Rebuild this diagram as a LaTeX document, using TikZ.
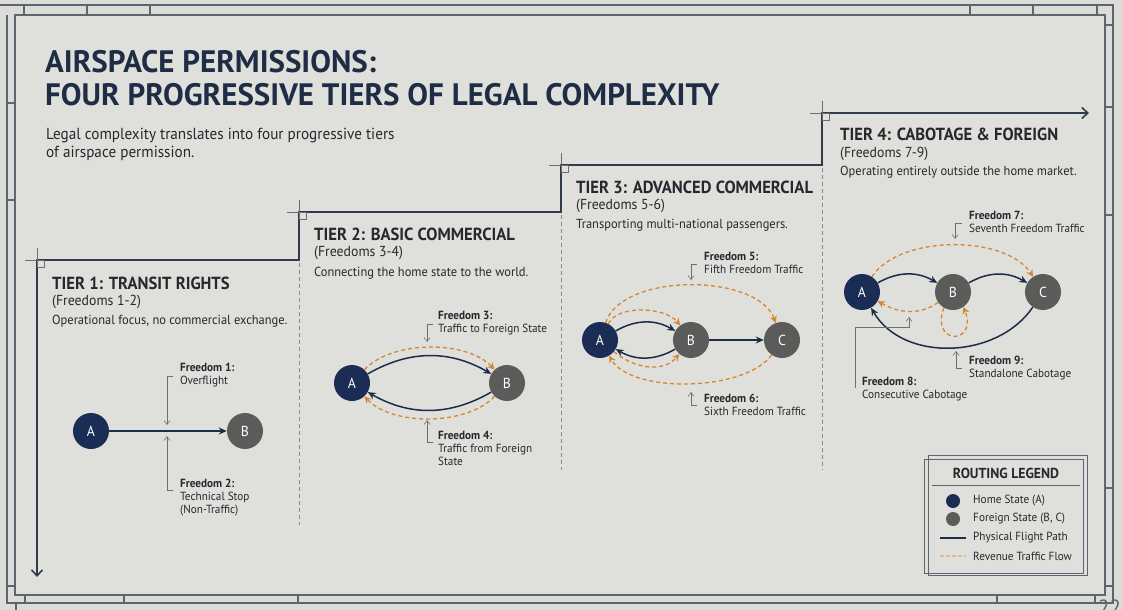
\documentclass[tikz,border=0pt]{standalone}
\usepackage{fontspec}
\setmainfont{PT Sans}[FakeStretch=0.95]
\newfontfamily\titlefamily{PT Sans}
\usetikzlibrary{arrows.meta}
\definecolor{bg}{HTML}{DCDDD8}
\definecolor{panel}{HTML}{DFE0DB}
\definecolor{framec}{HTML}{5E6570}
\definecolor{titlec}{HTML}{1E2D45}
\definecolor{textc}{HTML}{25282D}
\definecolor{navyN}{HTML}{1B2D55}
\definecolor{grayN}{HTML}{5B5B59}
\definecolor{navyL}{HTML}{1E2C4A}
\definecolor{stairc}{HTML}{2F3A4B}
\definecolor{orangeN}{HTML}{D58632}
\definecolor{orangeL}{HTML}{E2B98E}
\definecolor{leadc}{HTML}{6E6E6E}
\definecolor{sepc}{HTML}{8C8C8C}
\tikzset{
  home/.style={circle, fill=navyN, minimum size=36pt, inner sep=0pt, text=white, font=\fontsize{14.5}{14.5}\selectfont},
  foreign/.style={circle, fill=grayN, minimum size=36pt, inner sep=0pt, text=white, font=\fontsize{14.5}{14.5}\selectfont},
  flight/.style={draw=navyL, line width=1.5pt, -{Stealth[length=8pt,width=7pt]}},
  revenue/.style={draw=orangeN, line width=1.3pt, dash pattern=on 4pt off 3pt, -{Stealth[length=7pt,width=7pt]}},
  lead/.style={draw=leadc, line width=0.6pt, -{Straight Barb[length=4pt,width=6pt]}},
  note/.style={anchor=north west, inner sep=0pt, align=left, text=textc, font=\fontsize{11.8}{13}\selectfont},
  stair/.style={draw=stairc, line width=1.6pt},
  cross/.style={draw=leadc, line width=0.5pt},
  sep/.style={draw=sepc, line width=0.6pt, dash pattern=on 4pt off 3pt},
  tierhead/.style={anchor=base west, inner sep=0pt, text=textc, font=\bfseries\fontsize{17.5}{17.5}\selectfont},
  tiersub/.style={anchor=base west, inner sep=0pt, text=textc, font=\fontsize{14.5}{14.5}\selectfont},
  tierdesc/.style={anchor=base west, inner sep=0pt, text=textc, font=\fontsize{13.1}{13.1}\selectfont},
  framel/.style={draw=framec, line width=1.1pt},
  legtext/.style={anchor=west, inner sep=0pt, text=textc, font=\fontsize{11.8}{11.8}\selectfont}
}
\begin{document}
\begin{tikzpicture}[x=1pt,y=1pt]
\useasboundingbox (0,0) rectangle (1122,-610);
\fill[bg] (0,0) rectangle (1122,-610);
\fill[panel] (15,-15) rectangle (1105,-595);
% frame
\draw[framel] (0,-5) -- (1113,-5) -- (1113,-603) -- (7,-603) -- (7,-15);
\draw[framel] (15,-15) rectangle (1105,-595);
\draw[framel] (16,-610) -- (16,-603);
\foreach \x in {24,87,150,970,1033,1097} \draw[framel] (\x,-5) -- (\x,-15);
\foreach \y in {103,200,586} \draw[framel] (7,-\y) -- (15,-\y);
\foreach \y in {25,107,215,488,586} \draw[framel] (1105,-\y) -- (1113,-\y);
\foreach \x in {25,124,298,997,1095} \draw[framel] (\x,-595) -- (\x,-603);
\node[anchor=north west, inner sep=0pt, text=framec, font=\fontsize{22}{22}\selectfont] (pg) at (1098,-600) {22};
% title
\node[anchor=base west, inner sep=0pt, text=titlec, font=\titlefamily\bfseries\fontsize{31}{31}\selectfont] (t1) at (45,-73) {AIRSPACE PERMISSIONS:};
\node[anchor=base west, inner sep=0pt, text=titlec, font=\titlefamily\bfseries\fontsize{31}{31}\selectfont] (t2) at (45,-106) {FOUR PROGRESSIVE TIERS OF LEGAL COMPLEXITY};
\node[anchor=base west, inner sep=0pt, text=textc, font=\fontsize{16}{16}\selectfont] (s1) at (46,-139) {Legal complexity translates into four progressive tiers};
\node[anchor=base west, inner sep=0pt, text=textc, font=\fontsize{16}{16}\selectfont] (s2) at (46,-157) {of airspace permission.};
% staircase
\coordinate (st0) at (37,-577);
\coordinate (st1) at (37,-260);
\coordinate (st2) at (299,-260);
\coordinate (st3) at (299,-212);
\coordinate (st4) at (561,-212);
\coordinate (st5) at (561,-165);
\coordinate (st6) at (822,-165);
\coordinate (st7) at (822,-113);
\coordinate (st8) at (1089,-113);
\draw[stair, {Straight Barb[length=6pt,width=11pt]}-{Straight Barb[length=6pt,width=11pt]}] (st0) -- (st1) -- (st2) -- (st3) -- (st4) -- (st5) -- (st6) -- (st7) -- (st8);
\foreach \c in {st1,st3,st5,st7}{
  \draw[cross] (\c) -- ++(0,12);
  \draw[cross] (\c) -- ++(-12,0);
  \draw[cross] (\c) rectangle ++(7,-7);
}
% separators
\draw[sep] (299,-263) -- (299,-525);
\draw[sep] (561,-215) -- (561,-470);
\draw[sep] (822,-168) -- (822,-470);
% tier texts
\node[tierhead] (h1) at (52,-289) {TIER 1: TRANSIT RIGHTS};
\node[tiersub] (f1) at (52,-305) {(Freedoms 1-2)};
\node[tierdesc] (d1) at (52,-324) {Operational focus, no commercial exchange.};
\node[tierhead] (h2) at (314,-240) {TIER 2: BASIC COMMERCIAL};
\node[tiersub] (f2) at (314,-256) {(Freedoms 3-4)};
\node[tierdesc] (d2) at (314,-276) {Connecting the home state to the world.};
\node[tierhead] (h3) at (576,-193) {TIER 3: ADVANCED COMMERCIAL};
\node[tiersub] (f3) at (576,-209) {(Freedoms 5-6)};
\node[tierdesc] (d3) at (576,-228) {Transporting multi-national passengers.};
\node[tierhead] (h4) at (840,-140) {TIER 4: CABOTAGE \& FOREIGN};
\node[tiersub] (f4) at (840,-157) {(Freedoms 7-9)};
\node[tierdesc] (d4) at (840,-175) {Operating entirely outside the home market.};
% tier 1 diagram
\node[home] (A1) at (91,-431) {A};
\node[foreign] (B1) at (245,-431) {B};
\draw[flight] (A1) -- (B1);
\node[note] (n1) at (180,-363) {\textbf{Freedom 1:}\\Overflight};
\node[note] (n2) at (180,-479) {\textbf{Freedom 2:}\\Technical Stop\\(Non-Traffic)};
\coordinate (l1a) at (173,-376); \coordinate (l1b) at (167,-376); \coordinate (l1c) at (167,-425);
\draw[lead] (l1a) -- (l1b) -- (l1c);
\coordinate (l2a) at (173,-490); \coordinate (l2b) at (167,-490); \coordinate (l2c) at (167,-436);
\draw[lead] (l2a) -- (l2b) -- (l2c);
% tier 2 diagram
\node[home] (A2) at (352,-383) {A};
\node[foreign] (B2) at (507,-383) {B};
\draw[flight] (A2) to[out=30,in=150] (B2);
\draw[flight] (B2) to[out=210,in=-30] (A2);
\draw[revenue] (A2) to[out=47,in=133,looseness=0.8] (B2);
\draw[revenue] (B2) to[out=227,in=-47,looseness=0.8] (A2);
\node[note] (n3) at (438,-311) {\textbf{Freedom 3:}\\Traffic to Foreign State};
\node[note] (n4) at (438,-431) {\textbf{Freedom 4:}\\Traffic from Foreign\\State};
\coordinate (l3a) at (433,-324); \coordinate (l3b) at (427,-324); \coordinate (l3c) at (427,-342);
\draw[lead] (l3a) -- (l3b) -- (l3c);
\coordinate (l4a) at (433,-442); \coordinate (l4b) at (427,-442); \coordinate (l4c) at (427,-420);
\draw[lead] (l4a) -- (l4b) -- (l4c);
% tier 3 diagram
\node[home] (A3) at (600,-340) {A};
\node[foreign] (B3) at (691,-340) {B};
\node[foreign] (C3) at (782,-340) {C};
\draw[flight] (A3) to[out=30,in=150] (B3);
\draw[flight] (B3) to[out=210,in=-30] (A3);
\draw[flight] (B3) -- (C3);
\draw[revenue] (A3) to[out=63,in=127,looseness=0.8] (B3);
\draw[revenue] (A3) to[out=72,in=110,looseness=0.8] (C3);
\draw[revenue] (A3) to[out=-40,in=230,looseness=1] (B3);
\draw[revenue] (C3) to[out=235,in=-60,looseness=0.7] (A3);
\node[note] (n5) at (704,-252) {\textbf{Freedom 5:}\\Fifth Freedom Traffic};
\node[note] (n6) at (704,-394) {\textbf{Freedom 6:}\\Sixth Freedom Traffic};
\coordinate (l5a) at (697,-264); \coordinate (l5b) at (691,-264); \coordinate (l5c) at (691,-280);
\draw[lead] (l5a) -- (l5b) -- (l5c);
\coordinate (l6a) at (697,-405); \coordinate (l6b) at (691,-405); \coordinate (l6c) at (691,-392);
\draw[lead] (l6a) -- (l6b) -- (l6c);
% tier 4 diagram
\node[home] (A4) at (862,-292) {A};
\node[foreign] (B4) at (953,-292) {B};
\node[foreign] (C4) at (1043,-292) {C};
\draw[flight] (A4) to[out=30,in=150] (B4);
\draw[flight] (B4) to[out=30,in=150] (C4);
\draw[flight] (C4) to[out=236,in=-60,looseness=1] (A4);
\draw[revenue] (A4) to[out=57,in=123,looseness=0.8] (C4);
\draw[revenue] (B4) to[out=215,in=-30,looseness=1] (A4);
\draw[revenue] (B4.240) .. controls +(-14,-38) and +(15,-38) .. (B4.-55);
\node[note] (n7) at (969,-211) {\textbf{Freedom 7:}\\Seventh Freedom Traffic};
\node[note] (n8) at (862,-377) {\textbf{Freedom 8:}\\Consecutive Cabotage};
\node[note] (n9) at (969,-356) {\textbf{Freedom 9:}\\Standalone Cabotage};
\coordinate (l7a) at (962,-223); \coordinate (l7b) at (955,-223); \coordinate (l7c) at (955,-239);
\draw[lead] (l7a) -- (l7b) -- (l7c);
\coordinate (l8a) at (855,-388); \coordinate (l8b) at (855,-327); \coordinate (l8c) at (909,-327); \coordinate (l8d) at (909,-317);
\draw[lead] (l8a) -- (l8b) -- (l8c) -- (l8d);
\coordinate (l9a) at (962,-368); \coordinate (l9b) at (956,-368); \coordinate (l9c) at (956,-351);
\draw[lead] (l9a) -- (l9b) -- (l9c);
% legend
\draw[draw=framec, line width=0.8pt] (924,-459) rectangle (1083,-573);
\draw[draw=framec, line width=0.8pt] (928,-455) rectangle (1087,-575);
\node[inner sep=0pt, text=textc, font=\bfseries\fontsize{14.5}{14.5}\selectfont] (lgt) at (1006,-473) {ROUTING LEGEND};
\draw[draw=framec, line width=0.6pt] (932,-485) -- (1080,-485);
\node[circle, fill=navyN, minimum size=14pt, inner sep=0pt] (lgA) at (953,-501) {};
\node[legtext] (lgAt) at (973,-501) {Home State (A)};
\node[circle, fill=grayN, minimum size=14pt, inner sep=0pt] (lgB) at (953,-519) {};
\node[legtext] (lgBt) at (973,-519) {Foreign State (B, C)};
\coordinate (lgl1) at (940,-538); \coordinate (lgl2) at (966,-538);
\draw[navyL, line width=1.2pt] (lgl1) -- (lgl2);
\node[legtext] (lgLt) at (973,-538) {Physical Flight Path};
\coordinate (lgr1) at (940,-556); \coordinate (lgr2) at (966,-556);
\draw[orangeL, line width=1.1pt, dash pattern=on 3.5pt off 2.5pt] (lgr1) -- (lgr2);
\node[legtext] (lgRt) at (973,-556) {Revenue Traffic Flow};
\end{tikzpicture}
\end{document}
